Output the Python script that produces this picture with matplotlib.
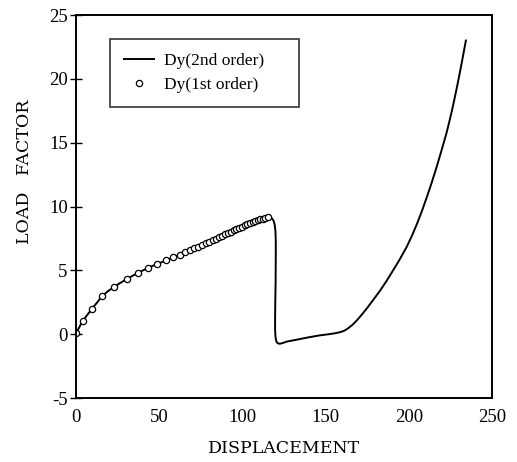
import matplotlib
matplotlib.use("Agg")
import matplotlib.pyplot as plt

# --- 2nd order curve (line) --- #
x_2nd = [0, 1, 2, 3, 4.4, 5.7, 7, 8.3, 9.6, 11, 12.5, 14.1, 15.8, 17.4, 19, 21,
         23, 26.5, 30.4, 33.8, 37.3, 40.4, 43.5, 46.2, 48.9, 51.5, 54.1, 60,
         65.5, 72, 78, 84, 90, 95, 100, 104, 108, 111, 113, 114.5, 115.6, 116.8,
         117.8, 118.7, 119.3, 119.8, 120.0, 120.0, 119.9, 119.7, 119.6, 119.6,
         119.8, 120.1, 120.6, 121.3, 122.5, 124.5, 126.6, 133, 140, 146.6, 152,
         155.5, 158.7, 161, 163, 165.8, 168.7, 171.8, 175, 178.8, 182.7, 186.3,
         190, 194.3, 198.7, 202, 205, 208, 210.8, 213.5, 216, 218.5, 220.8,
         222.5, 224, 225.4, 226.8, 228.4, 230, 232.1, 234.2]
y_2nd = [0, 0.3, 0.55, 0.8, 1.05, 1.32, 1.55, 1.77, 1.98, 2.22, 2.45, 2.72, 2.97,
         3.17, 3.35, 3.53, 3.7, 4.01, 4.3, 4.56, 4.8, 5.01, 5.2, 5.36, 5.5,
         5.64, 5.78, 6.1, 6.41, 6.77, 7.12, 7.48, 7.85, 8.15, 8.44, 8.66, 8.87,
         9.0, 9.08, 9.14, 9.18, 9.15, 9.05, 8.88, 8.6, 8.1, 7.3, 6.0, 4.0, 2.5,
         1.2, 0.4, -0.15, -0.45, -0.63, -0.72, -0.75, -0.68, -0.58, -0.42, -0.24,
         -0.09, 0.0, 0.07, 0.16, 0.26, 0.42, 0.7, 1.08, 1.55, 2.07, 2.73, 3.42,
         4.12, 4.9, 5.82, 6.85, 7.77, 8.7, 9.72, 10.76, 11.8, 12.83, 13.92,
         14.95, 15.73, 16.51, 17.28, 18.09, 19.08, 20.1, 21.53, 23.0]

# --- 1st order points (markers) --- #
x_1st = [0, 4.4, 9.6, 15.8, 23.0, 30.4, 37.3, 43.5, 48.9, 54.1, 58.5, 62.5, 65.5,
         68.5, 71.0, 73.5, 75.8, 78.0, 80.0, 82.0, 84.0, 85.8, 87.6, 89.4, 91.2,
         93.0, 94.7, 96.4, 98.1, 99.8, 101.4, 103.0, 104.6, 106.2, 107.8, 109.3,
         110.8, 112.3, 113.8, 115.3]
y_1st = [0.1, 1.05, 1.98, 2.97, 3.7, 4.3, 4.8, 5.2, 5.5, 5.78, 6.02, 6.24, 6.41,
         6.58, 6.72, 6.86, 6.99, 7.12, 7.24, 7.36, 7.48, 7.59, 7.70, 7.81, 7.92,
         8.03, 8.13, 8.23, 8.33, 8.43, 8.52, 8.61, 8.70, 8.78, 8.86, 8.93,
         8.99, 9.05, 9.10, 9.15]

x_ticks = [0, 50, 100, 150, 200, 250]
y_ticks = [-5, 0, 5, 10, 15, 20, 25]

plt.rcParams['font.family'] = ['Liberation Serif', 'DejaVu Serif']
plt.rcParams['axes.unicode_minus'] = False

fig = plt.figure(figsize=(5.17, 4.62), dpi=100)
ax = fig.add_axes([0.147, 0.1385, 0.805, 0.829])

ax.plot(x_2nd, y_2nd, "-", color="black", lw=1.4, label="Dy(2nd order)")
ax.plot(x_1st, y_1st, "o", color="black", mfc="white", ms=4.5, mew=0.9,
        label="Dy(1st order)")

ax.set_xlim(0, 250)
ax.set_ylim(-5, 25)
ax.set_xticks(x_ticks)
ax.set_yticks(y_ticks)
ax.tick_params(axis="x", length=0, pad=8, labelsize=13.5)
ax.tick_params(axis="y", direction="inout", length=8, width=1, pad=2, labelsize=13.5)
for s in ax.spines.values():
    s.set_linewidth(1.4)

ax.set_xlabel("DISPLACEMENT", fontsize=12.5, family="DejaVu Serif", labelpad=10)
ax.set_ylabel("LOAD   FACTOR", fontsize=12.5, family="DejaVu Serif")
ax.yaxis.set_label_coords(-0.103, 0.59)

leg = ax.legend(loc="upper left", bbox_to_anchor=(0.082, 0.757, 0.454, 0.18),
                mode="expand", numpoints=1, fontsize=12.5, frameon=True,
                fancybox=False, edgecolor="black", borderpad=0.8,
                handlelength=1.75, handletextpad=0.55, labelspacing=0.45,
                borderaxespad=0)
leg.get_frame().set_linewidth(1.2)

fig.savefig("out.png", dpi=100)
